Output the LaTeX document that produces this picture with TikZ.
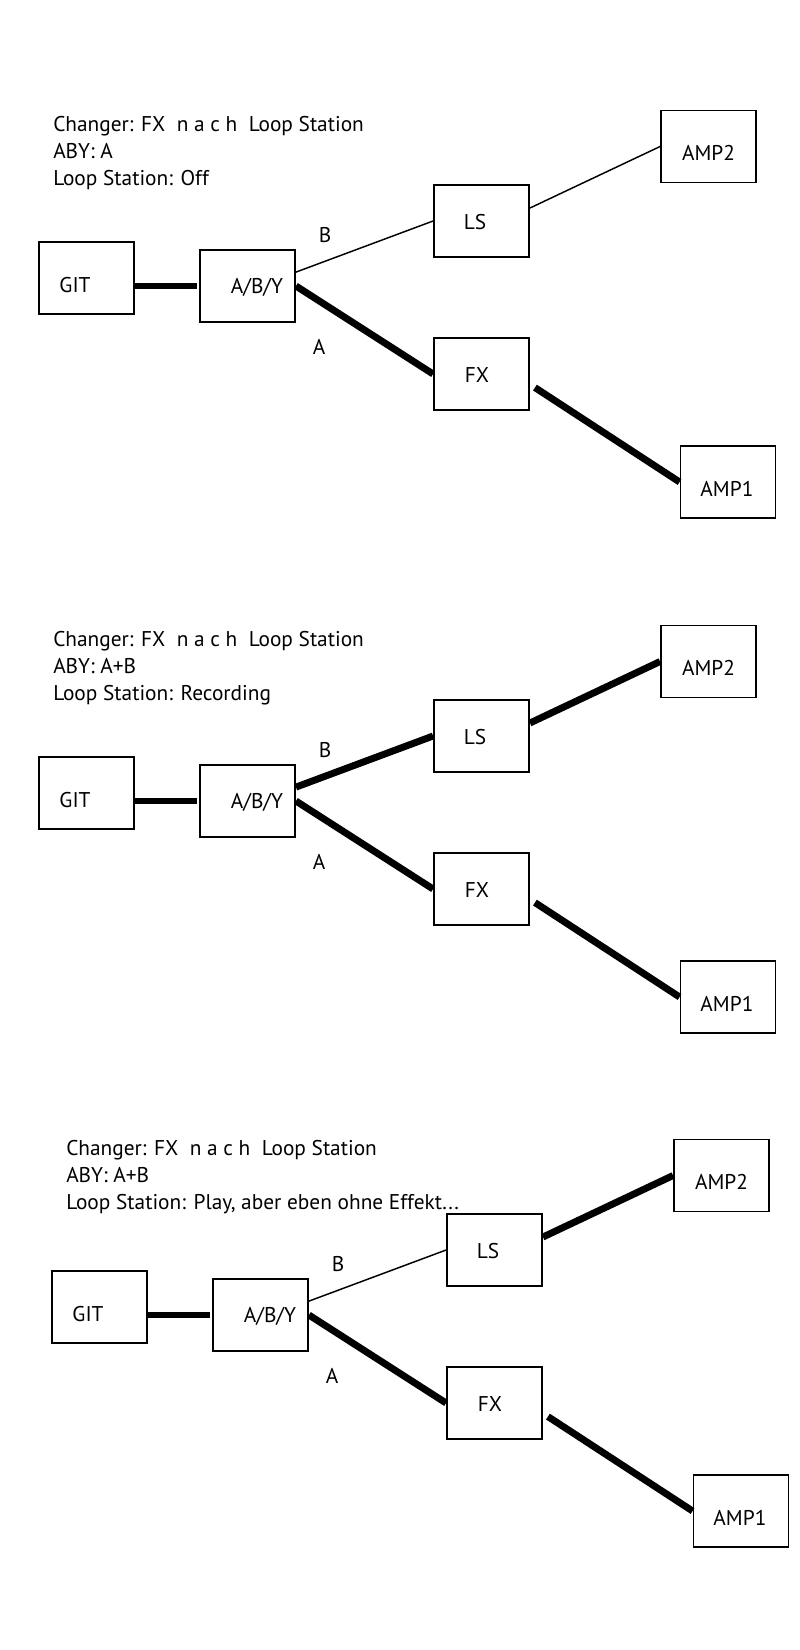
\documentclass[tikz,border=0pt]{standalone}
\usepackage{fontspec}
\setmainfont{PT Sans}
\usepackage{tikz}
\newcommand{\widthbox}{71.25pt}
\newcommand{\heightbox}{54pt}
\tikzset{
    box/.style={draw, line width=1.4pt, rectangle, minimum width=\widthbox, minimum height=\heightbox, inner sep=0pt},
    wire/.style={line cap=butt},
    thinwire/.style={wire, line width=1.1pt},
    thickwire/.style={wire, line width=5.2pt},
    info/.style={anchor=north west, align=left, inner sep=0pt},
    port/.style={inner sep=0pt}
}
\begin{document}
\begin{tikzpicture}[x=0.75pt, y=-0.75pt, font=\fontsize{16}{20.4}\selectfont]
    \useasboundingbox (0,0) rectangle (800,1650);
    % Off
    \begin{scope}
      \node[info] (info-1) at (53,116) {Changer: FX\ \ n a c h\ \ Loop Station\\ABY: A\\Loop Station: Off};
      \node[box, label={[xshift=-8.6pt, yshift=-5.2pt]center:GIT}] (git-1) at (86.5,278) {};
      \node[box, label={[xshift=7.1pt, yshift=-0.8pt]center:A/B/Y}] (aby-1) at (247.5,286) {};
      \node[box, label={[xshift=-4.9pt, yshift=-0.8pt]center:LS}] (ls-1) at (481.5,221) {};
      \node[box, label={[xshift=-3.4pt, yshift=-0.8pt]center:FX}] (fx-1) at (481.5,374) {};
      \node[box, label={[yshift=-4.5pt]center:AMP2}] (amp2-1) at (708.5,146.5) {};
      \node[box, label={[xshift=-0.8pt, yshift=-5.2pt]center:AMP1}] (amp1-1) at (728,482) {};
      \node[port] (b-1) at (325,235) {B};
      \node[port] (a-1) at (319,347) {A};
      \draw[thickwire, shorten >=1.5pt] (git-1.east |- aby-1.west) -- (aby-1.west);
      \draw[thinwire] (aby-1.16) -- (ls-1.west);
      \draw[thickwire] (aby-1.east) -- (fx-1.west);
      \draw[thinwire] (ls-1.15) -- (amp2-1.west);
      \draw[thickwire, shorten <=4.5pt] (fx-1.-12) -- (amp1-1.west);
    \end{scope}
    % Recording
    \begin{scope}[shift={(0,515)}]
      \node[info] (info-2) at (53,116) {Changer: FX\ \ n a c h\ \ Loop Station\\ABY: A+B\\Loop Station: Recording};
      \node[box, label={[xshift=-8.6pt, yshift=-5.2pt]center:GIT}] (git-2) at (86.5,278) {};
      \node[box, label={[xshift=7.1pt, yshift=-0.8pt]center:A/B/Y}] (aby-2) at (247.5,286) {};
      \node[box, label={[xshift=-4.9pt, yshift=-0.8pt]center:LS}] (ls-2) at (481.5,221) {};
      \node[box, label={[xshift=-3.4pt, yshift=-0.8pt]center:FX}] (fx-2) at (481.5,374) {};
      \node[box, label={[yshift=-4.5pt]center:AMP2}] (amp2-2) at (708.5,146.5) {};
      \node[box, label={[xshift=-0.8pt, yshift=-5.2pt]center:AMP1}] (amp1-2) at (728,482) {};
      \node[port] (b-2) at (325,235) {B};
      \node[port] (a-2) at (319,347) {A};
      \draw[thickwire, shorten >=1.5pt] (git-2.east |- aby-2.west) -- (aby-2.west);
      \draw[thickwire] (aby-2.16) -- (ls-2.west);
      \draw[thickwire] (aby-2.east) -- (fx-2.west);
      \draw[thickwire] (ls-2.15) -- (amp2-2.west);
      \draw[thickwire, shorten <=4.5pt] (fx-2.-12) -- (amp1-2.west);
    \end{scope}
    % Play
    \begin{scope}[shift={(13,1029)}]
      \node[info] (info-3) at (53,111) {Changer: FX\ \ n a c h\ \ Loop Station\\ABY: A+B\\Loop Station: Play, aber eben ohne Effekt...};
      \node[box, label={[xshift=-8.6pt, yshift=-5.2pt]center:GIT}] (git-3) at (86.5,278) {};
      \node[box, label={[xshift=7.1pt, yshift=-0.8pt]center:A/B/Y}] (aby-3) at (247.5,286) {};
      \node[box, label={[xshift=-4.9pt, yshift=-0.8pt]center:LS}] (ls-3) at (481.5,221) {};
      \node[box, label={[xshift=-3.4pt, yshift=-0.8pt]center:FX}] (fx-3) at (481.5,374) {};
      \node[box, label={[yshift=-4.5pt]center:AMP2}] (amp2-3) at (708.5,146.5) {};
      \node[box, label={[xshift=-0.8pt, yshift=-5.2pt]center:AMP1}] (amp1-3) at (728,482) {};
      \node[port] (b-3) at (325,235) {B};
      \node[port] (a-3) at (319,347) {A};
      \draw[thickwire, shorten >=1.5pt] (git-3.east |- aby-3.west) -- (aby-3.west);
      \draw[thinwire] (aby-3.16) -- (ls-3.west);
      \draw[thickwire] (aby-3.east) -- (fx-3.west);
      \draw[thickwire] (ls-3.15) -- (amp2-3.west);
      \draw[thickwire, shorten <=4.5pt] (fx-3.-12) -- (amp1-3.west);
    \end{scope}
\end{tikzpicture}
\end{document}
